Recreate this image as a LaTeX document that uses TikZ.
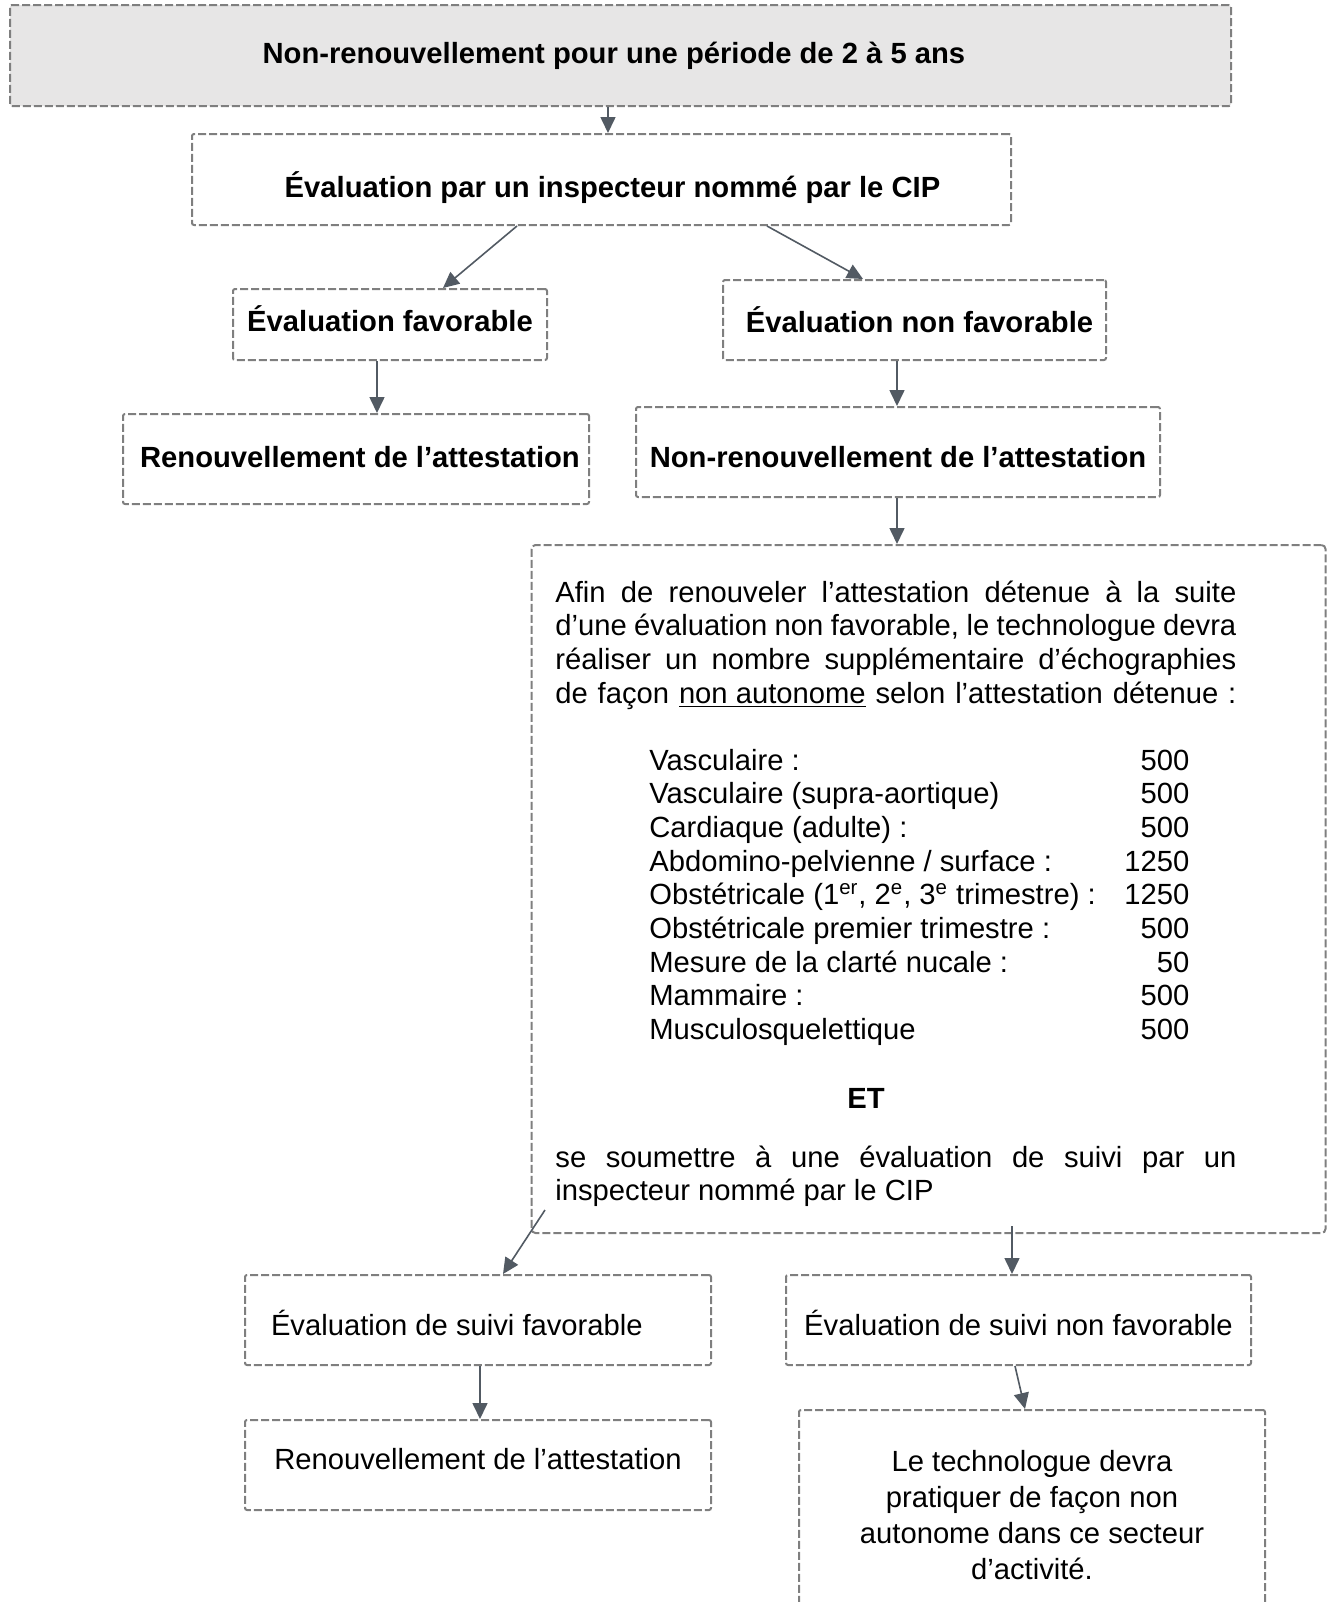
\documentclass[tikz,border=0pt]{standalone}
\usepackage{fontspec}
\setmainfont{Liberation Sans}
\usepackage{tikz}
\usetikzlibrary{arrows.meta,positioning}

\definecolor{gristrait}{HTML}{7F7F7F}
\definecolor{grisfleche}{HTML}{525A63}
\definecolor{grisfond}{HTML}{E7E6E6}
\newcommand{\taille}{\fontsize{14.6pt}{16.85pt}\selectfont}
% espaces de la police (align= les fige)
\newcommand{\esp}{\spaceskip=0pt\xspaceskip=0pt\relax}
% deplace le texte dans sa boite sans changer la boite
\newcommand{\decale}[3]{\hspace*{#1}\raisebox{#2}[\height][\depth]{#3}\hspace*{-#1}}
\newcommand{\ligne}[1]{\makebox[340.5pt][s]{\esp #1}}

\tikzset{
  boite/.style={draw=gristrait, rectangle, line width=1pt, dash pattern=on 4pt off 1.5pt,
    rounded corners=1pt, inner sep=0pt, font=\taille},
  gras/.style={boite, font=\taille\bfseries},
  texte/.style={inner sep=0pt, font=\taille},
  fleche/.style={draw=grisfleche, line width=0.8pt, -{Triangle[length=8pt,width=7.5pt]}}
}

\begin{document}
\begin{tikzpicture}[x=0.5pt,y=-0.5pt]
    \useasboundingbox (0,0) rectangle (1331,1602);

    % premiere evaluation
    \node[gras, fill=grisfond, minimum width=610.5pt, minimum height=50.5pt] (periode) at (620.5,55.5) {\decale{-3.3pt}{0pt}{Non-renouvellement pour une période de 2 à 5 ans}};
    \node[gras, minimum width=409.5pt, minimum height=45.5pt] (evalcip) at (601.5,179.5) {\decale{5.5pt}{-4pt}{Évaluation par un inspecteur nommé par le CIP}};
    \node[gras, minimum width=157pt, minimum height=35.5pt] (evalfav) at (390,324.5) {\decale{0pt}{3pt}{Évaluation favorable}};
    \node[gras, minimum width=191.5pt, minimum height=40pt] (evalnonfav) at (914.5,320) {\decale{2.5pt}{0pt}{Évaluation non favorable}};
    \node[gras, minimum width=233pt, minimum height=45pt] (renouv) at (356,459) {\decale{2pt}{1pt}{Renouvellement de l’attestation}};
    \node[gras, minimum width=262pt, minimum height=45pt] (nonrenouv) at (898,452) {\decale{0pt}{-2.5pt}{Non-renouvellement de l’attestation}};

    % conditions apres evaluation non favorable
    \node[boite, rounded corners=2pt, minimum width=397pt, minimum height=344pt] (detail) at (928.5,889) {};
    \node[texte, anchor=base west, text width=340.5pt, align=left] (para) at (555,602) {\ligne{Afin de renouveler l’attestation détenue à la suite}\\
      \ligne{d’une évaluation non favorable, le technologue devra}\\
      \ligne{réaliser un nombre supplémentaire d’échographies}\\
      \ligne{de façon \underline{non autonome} selon l’attestation détenue :}};
    \node[texte, anchor=base west, text width=270pt] (liste) at (649,770) {\esp Vasculaire :\hfill 500\\
      Vasculaire (supra-aortique)\hfill 500\\
      Cardiaque (adulte) :\hfill 500\\
      Abdomino-pelvienne / surface :\hfill 1250\\
      Obstétricale (1\textsuperscript{er}, 2\textsuperscript{e}, 3\textsuperscript{e} trimestre) :\hfill 1250\\
      Obstétricale premier trimestre :\hfill 500\\
      Mesure de la clarté nucale :\hfill 50\\
      Mammaire :\hfill 500\\
      Musculosquelettique\hfill 500};
    \node[texte, font=\taille\bfseries, anchor=base] (et) at (866,1108) {ET};
    \node[texte, anchor=base west, text width=340.5pt, align=left] (suivi) at (555,1167) {\esp\ligne{se soumettre à une évaluation de suivi par un}\\
      inspecteur nommé par le CIP};

    % evaluation de suivi
    \node[boite, minimum width=233pt, minimum height=45pt, text width=207pt, inner xsep=13pt, align=left] (suivifav) at (478,1320) {\esp\decale{0pt}{-1.5pt}{Évaluation de suivi favorable}};
    \node[boite, minimum width=232.5pt, minimum height=45pt] (suivinonfav) at (1018.5,1320) {\decale{0pt}{-1.5pt}{Évaluation de suivi non favorable}};
    \node[boite, minimum width=233pt, minimum height=45pt] (renouvsuivi) at (478,1465) {\decale{0pt}{3pt}{Renouvellement de l’attestation}};
    \node[boite, minimum width=233pt, minimum height=105pt, align=center, font=\fontsize{14.6pt}{18pt}\selectfont] (pratique) at (1032,1515) {\esp Le technologue devra\\pratiquer de façon non\\autonome dans ce secteur\\d’activité.};

    \coordinate (depart1) at (545,1210);
    \coordinate (depart2) at (1012,1226);

    \draw[fleche] (608,0 |- periode.south) -- (608,0 |- evalcip.north);
    \draw[fleche] (517,0 |- evalcip.south) -- (443,0 |- evalfav.north);
    \draw[fleche] (767,0 |- evalcip.south) -- (863,0 |- evalnonfav.north);
    \draw[fleche] (377,0 |- evalfav.south) -- (377,0 |- renouv.north);
    \draw[fleche] (897,0 |- evalnonfav.south) -- (897,0 |- nonrenouv.north);
    \draw[fleche] (897,0 |- nonrenouv.south) -- (897,0 |- detail.north);
    \draw[fleche] (depart1) -- (503,0 |- suivifav.north);
    \draw[fleche] (depart2) -- (1012,0 |- suivinonfav.north);
    \draw[fleche] (480,0 |- suivifav.south) -- (480,0 |- renouvsuivi.north);
    \draw[fleche] (1015,0 |- suivinonfav.south) -- (1025,0 |- pratique.north);
\end{tikzpicture}
\end{document}
